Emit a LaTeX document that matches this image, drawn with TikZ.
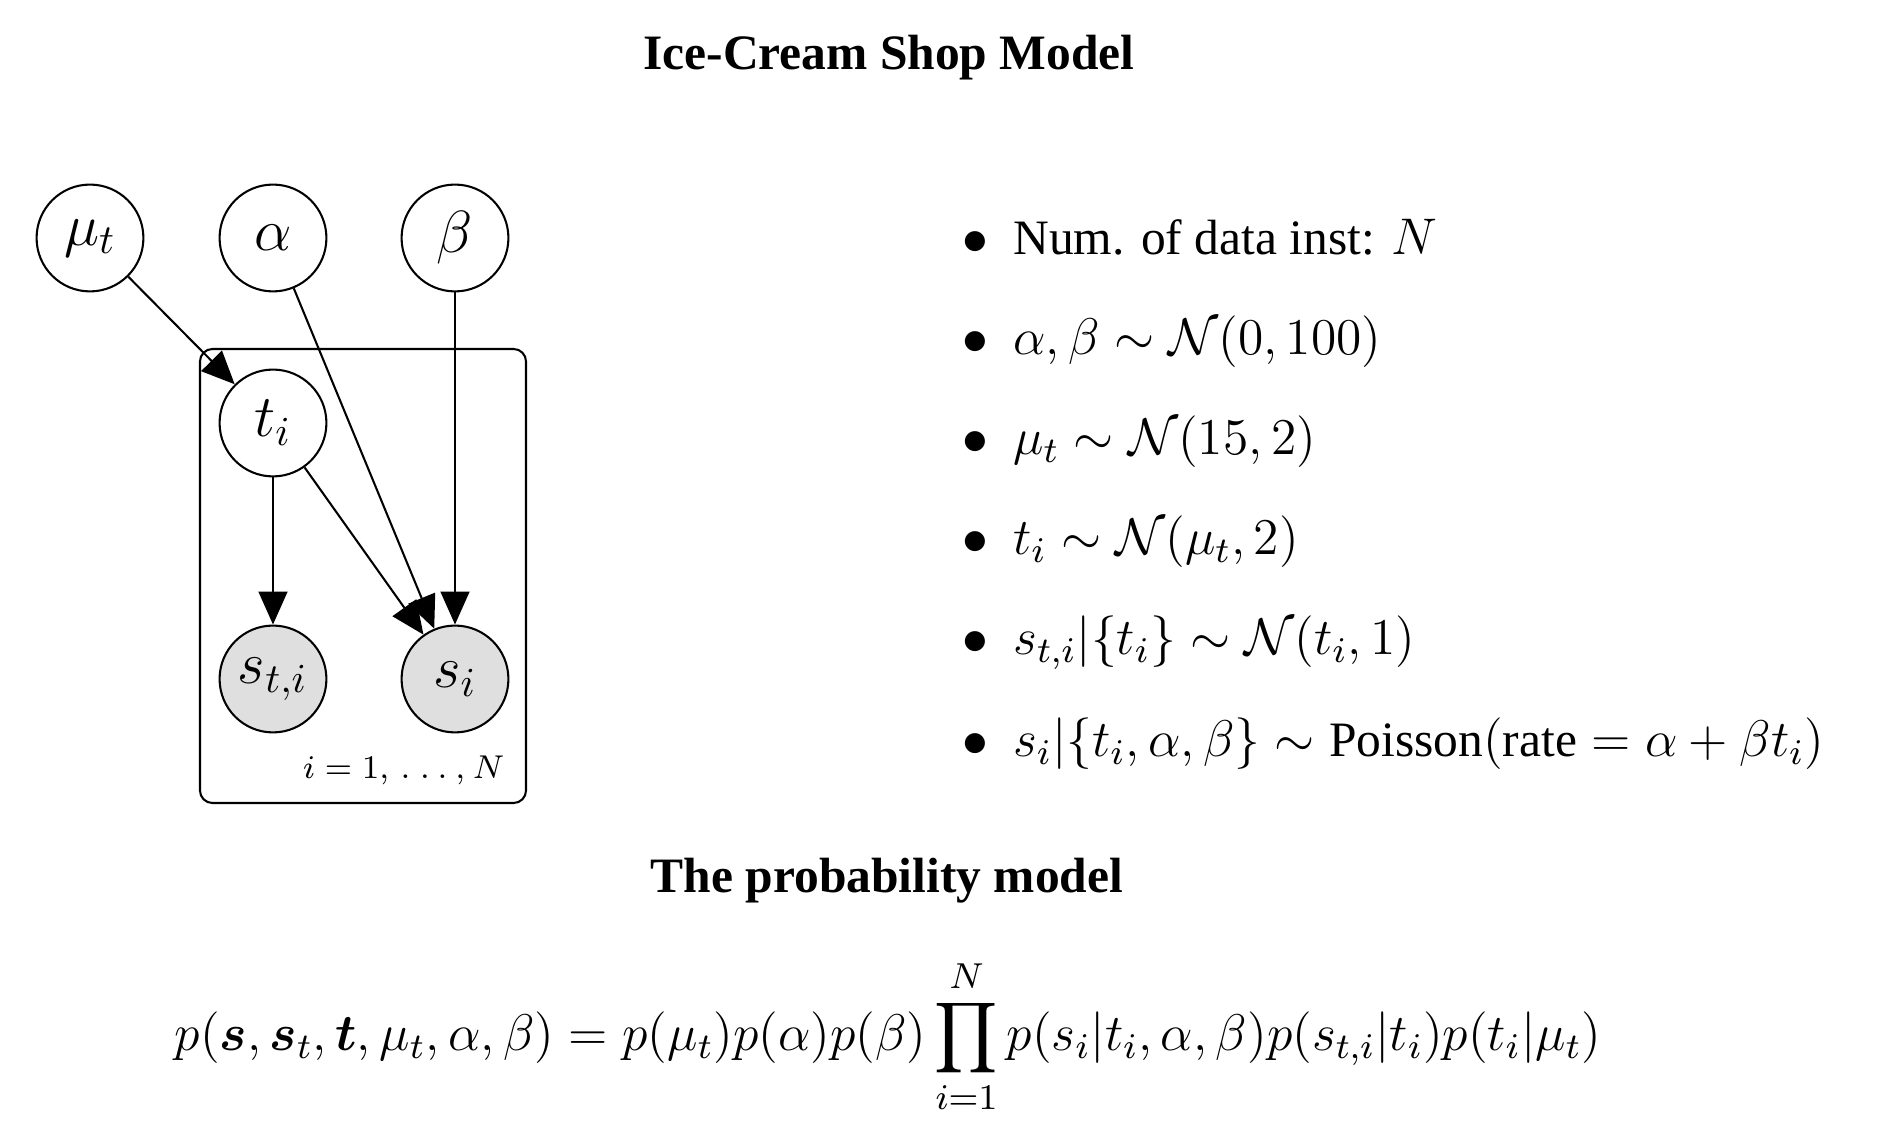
\RequirePackage{fix-cm}
\documentclass[tikz,border=0pt,12pt]{standalone}
\usepackage{amsmath}
\usepackage[no-math]{fontspec}
\setmainfont{Liberation Serif}
\DeclareMathSizes{12}{12.5}{8.75}{6.25}
\usetikzlibrary{arrows.meta}

\tikzset{
  itemline/.style={anchor=base west,inner sep=0pt},
  headline/.style={anchor=base,inner sep=0pt,font=\bfseries}
}

\begin{document}
\begin{tikzpicture}[x=0.852cm,y=-0.852cm]
      \useasboundingbox (0,0) rectangle (18.88,11.32);

      \node[headline] (title) at (8.89,0.70) {Ice-Cream Shop Model};

      % plate
      \draw[line width=0.5pt,rounded corners=3pt] (2.00,3.49) rectangle (5.26,8.03);
      \node[anchor=base east,inner sep=0pt,font=\fontsize{8}{9}\selectfont] (range) at (5.05,7.79)
        {$i = 1,\mkern3mu.\mkern5mu.\mkern4mu.\mkern4mu,\mkern1mu N$};

      \begin{scope}[every node/.style={circle,draw,fill=white,line width=0.5pt,minimum size=25.9pt,
                                       inner sep=0pt,font=\fontsize{14.4}{17}\selectfont}]
        \node (mu)    at (0.90,2.38) {$\mu_t$};
        \node (alpha) at (2.73,2.38) {$\alpha$};
        \node (beta)  at (4.55,2.38) {$\beta$};
        \node (t)     at (2.73,4.23) {$t_i$};
        \node[fill=gray!25] (st) at (2.73,6.79) {$s_{t,i}$};
        \node[fill=gray!25] (s)  at (4.55,6.79) {$s_i$};
      \end{scope}

      \begin{scope}[every edge/.style={draw,line width=0.5pt,-{Triangle[length=8pt,width=7pt]}}]
        \path (mu)    edge (t);
        \path (t)     edge (st);
        \path (t)     edge (s);
        \path (alpha) edge (s);
        \path (beta)  edge (s);
      \end{scope}

      % model
      \node[itemline] (n) at (9.62,2.55) {$\bullet$\enspace Num. of data inst: $N$};
      \node[itemline] (ab) at (9.62,3.55) {$\bullet$\enspace $\alpha, \beta \sim \mathcal{N}(0, 100)$};
      \node[itemline] (mut) at (9.62,4.55) {$\bullet$\enspace $\mu_t \sim \mathcal{N}(15, 2)$};
      \node[itemline] (ti) at (9.62,5.55) {$\bullet$\enspace $t_i \sim \mathcal{N}(\mu_t, 2)$};
      \node[itemline] (sti) at (9.62,6.55) {$\bullet$\enspace $s_{t,i}|\{t_i\} \sim \mathcal{N}(t_i, 1)$};
      \node[itemline] (si) at (9.62,7.57)
        {$\bullet$\enspace $s_i|\{t_i, \alpha, \beta\} \sim \mbox{Poisson}(\mbox{rate} = \alpha + \beta t_i)$};

      \node[headline] (probtitle) at (8.87,8.93) {The probability model};

      \node[anchor=base,inner sep=0pt] (joint) at (8.88,10.51)
        {$\displaystyle p(\boldsymbol{s}, \boldsymbol{s}_t, \boldsymbol{t}, \mu_t, \alpha, \beta)
          = p(\mu_t)p(\alpha)p(\beta)\prod_{i=1}^{N} p(s_i|t_i, \alpha, \beta)p(s_{t,i}|t_i)p(t_i|\mu_t)$};

    \end{tikzpicture}
\end{document}
